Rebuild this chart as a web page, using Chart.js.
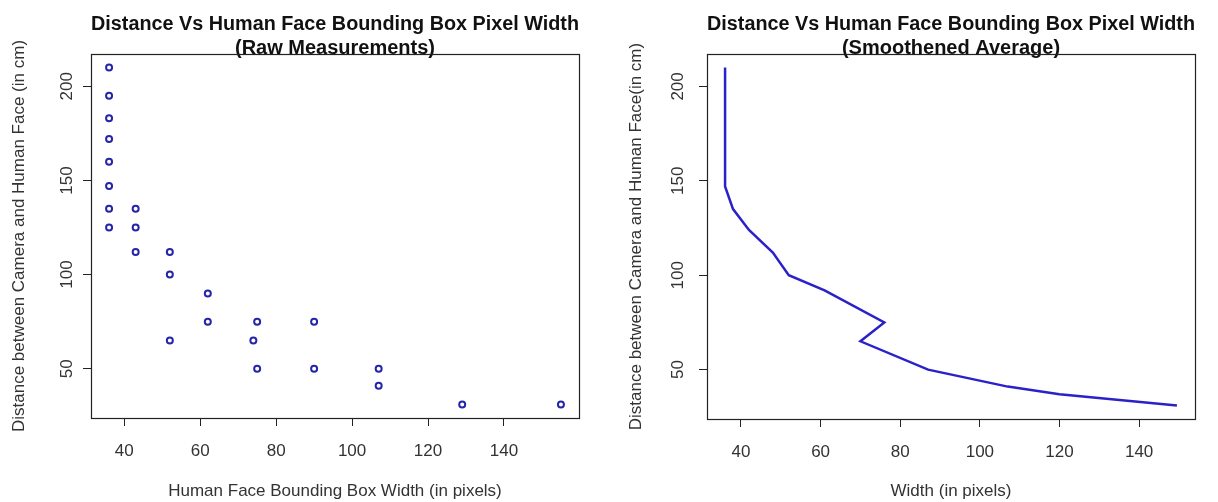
<!DOCTYPE html>
<html lang="en">
<head>
<meta charset="utf-8">
<title>Distance Vs Human Face Bounding Box Pixel Width</title>
<script src="https://cdn.jsdelivr.net/npm/chart.js@4.4.1/dist/chart.umd.min.js"></script>
<style>
  html, body { margin: 0; padding: 0; background: #fff; }
  .charts { display: flex; width: 1218px; height: 502px; }
  canvas { display: block; }
</style>
</head>
<body>
<div class="charts">
  <canvas id="rawChart" width="609" height="502"></canvas>
  <canvas id="avgChart" width="609" height="502"></canvas>
</div>
<script>
// Raw measurements (width in pixels, distance in cm)
const rawWidths = [36, 36, 36, 36, 36, 36, 36, 36, 43, 43, 43, 52, 52, 52, 62, 62, 74, 75, 75, 90, 90, 107, 107, 129, 155];
const rawDistances = [210, 195, 183, 172, 160, 147, 135, 125, 135, 125, 112, 112, 100, 65, 90, 75, 65, 75, 50, 75, 50, 50, 41, 31, 31];

// Smoothened average, in drawing order
const avgWidths = [36, 36, 36, 36, 36, 36, 38, 42, 48, 52, 61, 76, 70, 87, 107, 120, 149.5];
const avgDistances = [210, 195, 183, 172, 160, 147, 135, 124, 112, 100, 92, 75, 65, 50, 41, 37, 31];

// Tick labels
const widthTicks = [40, 60, 80, 100, 120, 140];
const distanceTicks = [50, 100, 150, 200];

const FONT = "'Liberation Sans', Arial, sans-serif";
const INK = '#222';

/**
 * Pair two arrays into {x, y} points
 */
function toPoints(xs, ys) {
  return xs.map((x, i) => ({ x: x, y: ys[i] }));
}

/**
 * Plugin drawing the full box around the plot region (R style)
 */
const plotBox = {
  id: 'plotBox',
  afterDraw(chart) {
    const { ctx, chartArea } = chart;
    ctx.save();
    ctx.strokeStyle = INK;
    ctx.lineWidth = 1.2;
    ctx.strokeRect(Math.round(chartArea.left) + 0.5, Math.round(chartArea.top) + 0.5,
      Math.round(chartArea.right - chartArea.left), Math.round(chartArea.bottom - chartArea.top));
    ctx.restore();
  }
};

/**
 * Build options for one panel
 */
function panelOptions(cfg) {
  return {
    responsive: false,
    animation: false,
    layout: { padding: { left: 0, right: cfg.padRight, top: 0, bottom: 0 } },
    plugins: {
      legend: { display: false },
      tooltip: { enabled: false },
      title: {
        display: true,
        fullSize: false,
        text: cfg.title,
        color: '#111',
        font: { family: FONT, size: 20, weight: 'bold', lineHeight: 1.2 },
        padding: { top: 12, bottom: -6 }
      }
    },
    scales: {
      x: {
        type: 'linear',
        min: cfg.xMin,
        max: cfg.xMax,
        afterBuildTicks: (s) => { s.ticks = widthTicks.map(v => ({ value: v })); },
        afterFit: (s) => { s.height = cfg.xHeight; },
        border: { display: false },
        grid: { drawOnChartArea: false, drawTicks: true, tickLength: 8, color: INK },
        ticks: { color: '#333', padding: 15, maxRotation: 0, font: { family: FONT, size: 17 } },
        title: {
          display: true,
          text: cfg.xTitle,
          color: '#333',
          padding: { top: 0, bottom: 0 },
          font: { family: FONT, size: 17, lineHeight: 1.2 }
        }
      },
      y: {
        type: 'linear',
        min: 23.84,
        max: 217.16,
        afterBuildTicks: (s) => { s.ticks = distanceTicks.map(v => ({ value: v })); },
        afterFit: (s) => { s.width = cfg.yWidth; },
        border: { display: false },
        grid: { drawOnChartArea: false, drawTicks: true, tickLength: 8, color: INK },
        ticks: {
          color: '#333',
          padding: cfg.yTickPad,
          minRotation: 90,
          maxRotation: 90,
          crossAlign: 'center',
          font: { family: FONT, size: 17 }
        },
        title: {
          display: true,
          text: cfg.yTitle,
          color: '#333',
          padding: { top: cfg.yTitlePad, bottom: 0 },
          font: { family: FONT, size: 17, lineHeight: 1.2 }
        }
      }
    }
  };
}

function drawRawChart() {
  const ctx = document.getElementById('rawChart').getContext('2d');
  return new Chart(ctx, {
    type: 'scatter',
    data: {
      datasets: [{
        data: toPoints(rawWidths, rawDistances),
        pointStyle: 'circle',
        pointRadius: 3,
        pointBorderWidth: 2,
        borderColor: '#2525a8',
        backgroundColor: 'rgba(0,0,0,0)'
      }]
    },
    options: panelOptions({
      title: ['Distance Vs Human Face Bounding Box Pixel Width', '(Raw Measurements)'],
      xTitle: 'Human Face Bounding Box Width (in pixels)',
      yTitle: 'Distance between Camera and Human Face (in cm)',
      xMin: 31.24, xMax: 159.76,
      padRight: 30, yWidth: 91, xHeight: 84,
      yTickPad: 2, yTitlePad: 9
    }),
    plugins: [plotBox]
  });
}

function drawAvgChart() {
  const ctx = document.getElementById('avgChart').getContext('2d');
  return new Chart(ctx, {
    type: 'scatter',
    data: {
      datasets: [{
        data: toPoints(avgWidths, avgDistances),
        showLine: true,
        tension: 0,
        pointRadius: 0,
        borderWidth: 2.5,
        borderColor: '#2a22c8',
        backgroundColor: '#2a22c8'
      }]
    },
    options: panelOptions({
      title: ['Distance Vs Human Face Bounding Box Pixel Width', '(Smoothened Average)'],
      xTitle: 'Width (in pixels)',
      yTitle: 'Distance between Camera and Human Face(in cm)',
      xMin: 31.46, xMax: 154.04,
      padRight: 23, yWidth: 98, xHeight: 83,
      yTickPad: 7, yTitlePad: 17
    }),
    plugins: [plotBox]
  });
}

document.addEventListener('DOMContentLoaded', () => {
  drawRawChart();
  drawAvgChart();
});
</script>
</body>
</html>
